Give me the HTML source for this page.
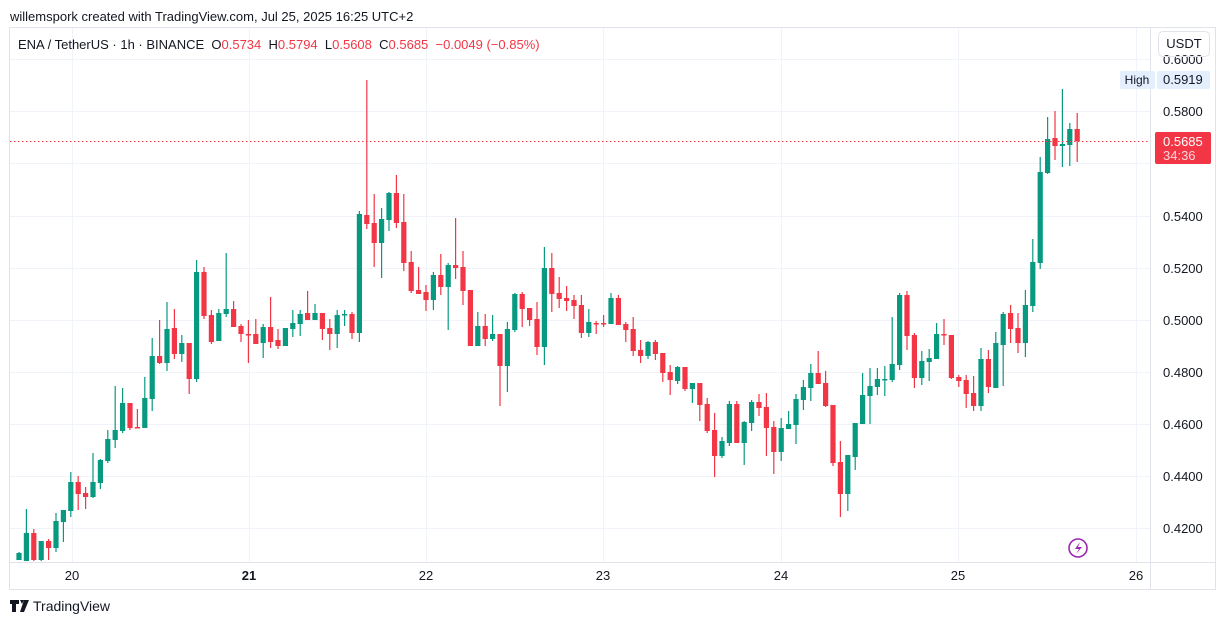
<!DOCTYPE html>
<html><head><meta charset="utf-8"><style>
body{margin:0;width:1225px;height:624px;background:#fff;font-family:"Liberation Sans",sans-serif;overflow:hidden;position:relative}
.t{position:absolute;white-space:nowrap}
</style></head><body>
<div class="t" style="left:10px;top:9px;font-size:13px;color:#131722">willemspork created with TradingView.com, Jul 25, 2025 16:25 UTC+2</div>
<svg width="1225" height="624" style="position:absolute;left:0;top:0" id="s">
<rect x="9.5" y="27.5" width="1206" height="562" fill="none" stroke="#e0e3eb"/>
<line x1="1150.5" y1="28" x2="1150.5" y2="589" stroke="#e0e3eb"/>
<line x1="10" y1="562.5" x2="1215" y2="562.5" stroke="#e0e3eb"/>
<g id="grid" stroke="#f0f3fa"></g>
<g id="c"></g>
<line x1="10" y1="141.5" x2="1150" y2="141.5" stroke="#f23645" stroke-dasharray="1.5,2.5"/>
<g font-size="13" fill="#131722" font-family="Liberation Sans, sans-serif" id="lab"></g>
<rect x="1120" y="71" width="35" height="18" rx="2" fill="#e3effd"/>
<text x="1137" y="84" font-size="12" text-anchor="middle" fill="#131722">High</text>
<rect x="1157" y="71" width="53" height="18" rx="2" fill="#e3effd"/>
<text x="1163" y="84" font-size="13" fill="#131722">0.5919</text>
<rect x="1155" y="132" width="56" height="32" rx="2" fill="#f23645"/>
<text x="1163" y="146" font-size="13" fill="#fff">0.5685</text>
<text x="1163" y="160" font-size="13" fill="#fbd5d8">34:36</text>
<circle cx="1078" cy="548" r="9" fill="none" stroke="#9c27b0" stroke-width="1.6"/>
<path d="M1080 542 L1075 549 L1079 549 L1076 554 L1082 547 L1078 547 Z" fill="#9c27b0"/>
<path d="M10 600 h9 v4 h-3 v8 h-4 v-8 h-2 z M20 600 h4 l-2 4 z M24 600 h5 l-5 12 h-4 z" fill="#131722"/>
</svg>
<div class="t" style="left:1158px;top:31px;width:52px;height:26px;border:1px solid #e0e3eb;border-radius:5px;box-sizing:border-box;font-size:13px;line-height:24px;text-align:center;color:#131722">USDT</div>
<div class="t" style="left:18px;top:37px;font-size:13px;color:#131722">ENA / TetherUS · 1h · BINANCE&nbsp; O<span style="color:#f23645">0.5734</span>&nbsp; H<span style="color:#f23645">0.5794</span>&nbsp; L<span style="color:#f23645">0.5608</span>&nbsp; C<span style="color:#f23645">0.5685</span>&nbsp; <span style="color:#f23645">−0.0049 (−0.85%)</span></div>
<div class="t" style="left:33px;top:598px;font-size:14px;color:#131722">TradingView</div>
<script>
var ns="http://www.w3.org/2000/svg";
function el(p,n,a,txt){var e=document.createElementNS(ns,n);for(var k in a)e.setAttribute(k,a[k]);if(txt)e.textContent=txt;document.getElementById(p).appendChild(e);}
var ys=[59,111,163,216,268,320,372,424,476,528],pl=["0.6000","0.5800","0.5600","0.5400","0.5200","0.5000","0.4800","0.4600","0.4400","0.4200"];
ys.forEach(function(y,i){el("grid","line",{x1:10,x2:1150,y1:y+.5,y2:y+.5});if(i!=2)el("lab","text",{x:1163,y:y+5},pl[i]);});
var dx=[72,249,426,603,781,958,1136],dl=["20","21","22","23","24","25","26"];
dx.forEach(function(x,i){el("grid","line",{x1:x+.5,x2:x+.5,y1:28,y2:562});var a={x:x,y:580,"text-anchor":"middle"};if(i==1)a["font-weight"]="bold";el("lab","text",a,dl[i]);});
var d=[[552,553,560,560,'g'],[509,533,561,561,'g'],[529,533,560,561,'r'],[541,541,560,561,'g'],[539,541,548,560,'r'],[513,521,548,552,'g'],[510,510,522,542,'g'],[472,482,511,517,'g'],[476,482,494,510,'r'],[487,493,497,509,'r'],[453,482,497,498,'g'],[459,460,483,489,'g'],[430,439,461,463,'g'],[386,430,440,448,'g'],[388,403,431,433,'g'],[403,403,428,430,'r'],[409,427,428,428,'r'],[377,398,428,428,'g'],[338,356,399,411,'g'],[320,356,363,364,'r'],[302,329,363,371,'g'],[309,328,354,359,'r'],[335,343,354,362,'g'],[343,343,379,394,'r'],[260,272,379,382,'g'],[267,272,316,319,'r'],[310,315,342,344,'r'],[309,313,341,341,'g'],[253,309,314,317,'g'],[301,309,327,327,'r'],[324,326,334,342,'r'],[320,334,335,363,'r'],[319,334,344,344,'r'],[324,327,343,358,'g'],[297,327,342,348,'r'],[329,340,346,349,'r'],[328,328,346,346,'g'],[310,323,329,337,'g'],[310,314,324,336,'g'],[291,313,320,320,'r'],[304,313,320,320,'g'],[313,313,329,340,'r'],[319,328,334,350,'r'],[310,315,334,348,'g'],[310,314,315,326,'g'],[312,314,333,339,'r'],[211,214,333,342,'g'],[80,215,224,229,'r'],[194,223,243,267,'r'],[208,219,243,278,'g'],[192,193,220,231,'g'],[175,193,223,228,'r'],[194,222,263,271,'r'],[251,262,291,293,'r'],[267,290,294,294,'r'],[285,292,300,311,'r'],[272,275,300,310,'g'],[254,275,287,295,'r'],[263,265,287,330,'g'],[218,265,268,279,'r'],[251,267,291,305,'r'],[290,290,346,346,'r'],[312,326,346,346,'g'],[314,326,339,346,'r'],[315,334,339,341,'g'],[334,334,366,406,'r'],[322,329,366,392,'g'],[293,294,330,332,'g'],[292,294,309,327,'r'],[308,308,320,326,'r'],[302,319,347,355,'r'],[247,268,347,365,'g'],[253,268,294,312,'r'],[277,293,299,308,'r'],[286,298,301,311,'r'],[295,300,306,319,'r'],[295,305,333,338,'r'],[309,322,333,337,'g'],[321,323,324,334,'r'],[315,323,324,327,'r'],[293,298,324,324,'g'],[295,298,325,325,'r'],[322,324,330,342,'r'],[317,329,351,356,'r'],[340,350,356,363,'r'],[341,342,356,359,'g'],[340,342,354,360,'r'],[353,353,373,382,'r'],[365,372,380,395,'r'],[366,367,381,384,'g'],[367,367,389,391,'r'],[383,383,389,403,'g'],[383,383,405,421,'r'],[398,404,431,433,'r'],[413,430,456,477,'r'],[437,441,456,458,'g'],[401,404,443,446,'g'],[401,404,443,443,'r'],[421,422,443,465,'g'],[400,402,423,431,'g'],[394,402,408,416,'r'],[393,407,428,456,'r'],[421,427,452,474,'r'],[418,428,452,461,'g'],[411,424,429,429,'g'],[394,399,425,444,'g'],[380,387,400,410,'g'],[364,373,388,401,'g'],[351,373,384,384,'r'],[371,383,406,407,'r'],[405,405,463,466,'r'],[441,462,494,517,'r'],[455,455,494,511,'g'],[423,423,457,470,'g'],[373,395,424,424,'g'],[368,386,396,424,'g'],[368,379,387,395,'g'],[366,379,380,396,'g'],[317,364,380,382,'g'],[293,295,365,370,'g'],[291,295,336,350,'r'],[333,335,378,388,'r'],[351,361,378,385,'g'],[349,358,362,381,'g'],[323,334,359,359,'g'],[319,334,335,345,'r'],[335,335,378,379,'r'],[375,377,381,387,'r'],[375,380,394,408,'r'],[376,393,406,411,'r'],[348,359,406,411,'g'],[350,359,387,393,'r'],[332,343,388,388,'g'],[312,314,345,386,'g'],[305,313,329,343,'r'],[313,328,343,353,'r'],[290,305,343,357,'g'],[239,262,306,312,'g'],[157,172,263,269,'g'],[117,139,173,174,'g'],[111,138,146,160,'r'],[89,144,146,167,'g'],[123,129,145,166,'g'],[113,129,141,162,'r']];
d.forEach(function(c,i){var x=19+i*7.4,col=c[4]=='g'?'#089981':'#f23645';var lo=Math.min(c[3],561);
el("c","line",{x1:x,x2:x,y1:c[0],y2:lo,stroke:col,"stroke-width":1.2});
var t=c[1],b=Math.min(c[2],561);if(b-t<1.5)b=t+1.5;el("c","rect",{x:x-2.6,y:t,width:5.2,height:b-t,fill:col});});
</script>
</body></html>
